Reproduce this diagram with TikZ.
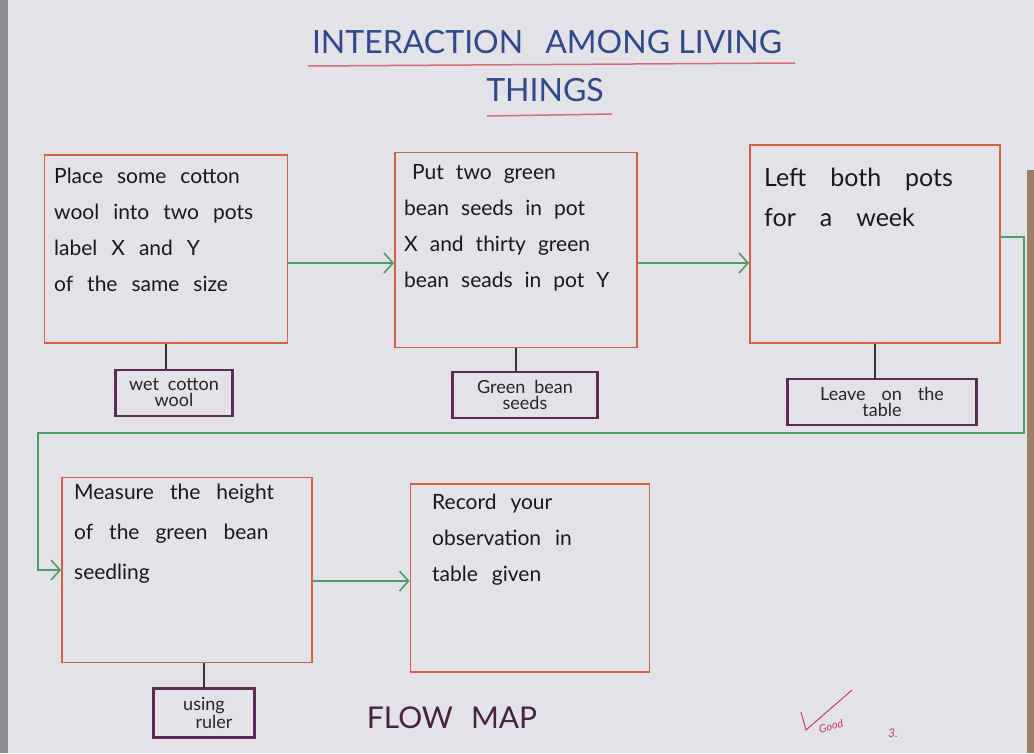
\documentclass[tikz,border=0pt]{standalone}
\usepackage{fontspec}
\setmainfont{Lato}
\usetikzlibrary{arrows.meta}
\definecolor{board}{RGB}{227,226,232}
\definecolor{boxred}{RGB}{214,96,66}
\definecolor{flowgreen}{RGB}{76,158,98}
\definecolor{notepurple}{RGB}{92,42,84}
\definecolor{titleblue}{RGB}{48,72,140}
\definecolor{underred}{RGB}{214,108,120}
\definecolor{markred}{RGB}{200,60,90}
\newdimen\wordgap

\begin{document}
\begin{tikzpicture}[x=1pt,y=-1pt,
    stepbox/.style={draw=boxred, line width=1.8pt, inner sep=0pt},
    notebox/.style={draw=notepurple, line width=2.2pt, inner sep=0pt, align=center, text=black!85, font=\fontsize{18}{16}\selectfont, execute at begin node={\spaceskip=9pt}},
    steptext/.style={anchor=north west, inner sep=0pt, align=left, text=black!90, font=\fontsize{21}{36}\selectfont, execute at begin node={\spaceskip=\wordgap}},
    flow/.style={draw=flowgreen, line width=1.6pt, -{Straight Barb[length=9pt,width=20pt]}},
    link/.style={draw=black!80, line width=1.6pt}]
			%%%%% START %%%%%

			\global\wordgap=14pt
			\useasboundingbox (0,0) rectangle (1034,753);
			\fill[board] (0,0) rectangle (1034,753);
			\fill[black!45] (0,0) rectangle (8,753);
			\fill[brown!45!gray] (1027,170) rectangle (1034,753);

			% title
			\node[text=titleblue, font=\fontsize{32}{32}\selectfont] (title) at (547,42) {INTERACTION\hspace{22pt}AMONG LIVING};
			\node[text=titleblue, font=\fontsize{32}{32}\selectfont] (things) at (545,90) {THINGS};
			\draw[underred, line width=1.5pt] (308,66) -- (795,63);
			\draw[underred, line width=1.5pt] (487,116) -- (612,114);

			% steps
			\node[stepbox, minimum width=243pt, minimum height=188pt] (place) at (166,249) {};
			\node[stepbox, minimum width=242pt, minimum height=195pt] (putseeds) at (516,250) {};
			\node[stepbox, minimum width=250pt, minimum height=198pt] (leavepots) at (875,244) {};
			\node[stepbox, minimum width=250pt, minimum height=185pt] (measure) at (187,570) {};
			\node[stepbox, minimum width=239pt, minimum height=188pt] (record) at (530,578) {};

			\node[steptext] (placetext) at (54,168) {Place some cotton\\wool into two pots\\label X and Y\\of the same size};
			\node[steptext, execute at begin node={\spaceskip=12pt}] (puttext) at (404,164) {\hspace{8pt}Put two green\\bean seeds in pot\\X and thirty green\\bean seads in pot Y};
			\node[steptext, font=\fontsize{25}{40}\selectfont, execute at begin node={\spaceskip=24pt}] (lefttext) at (764,168) {Left both pots\\for a week};
			\node[steptext, font=\fontsize{21}{40}\selectfont, execute at begin node={\spaceskip=16pt}] (measuretext) at (74,484) {Measure the height\\of the green bean\\seedling};
			\node[steptext, font=\fontsize{21}{36}\selectfont] (recordtext) at (432,494) {Record your\\observation in\\table given};

			% notes
			\node[notebox, minimum width=117pt, minimum height=46pt] (wetwool) at (174,393) {wet cotton\\wool};
			\node[notebox, minimum width=145pt, minimum height=46pt] (beanseeds) at (525,395) {Green bean\\seeds};
			\node[notebox, minimum width=189pt, minimum height=46pt, execute at begin node={\spaceskip=16pt}] (ontable) at (882,402) {Leave on the\\table};
			\node[notebox, minimum width=101pt, minimum height=49pt] (ruler) at (204,713) {using\hspace{22pt}\\\hspace{20pt}ruler};

			\draw[link] (place.south) -- (place.south |- wetwool.north);
			\draw[link] (putseeds.south) -- (putseeds.south |- beanseeds.north);
			\draw[link] (leavepots.south) -- (leavepots.south |- ontable.north);
			\draw[link] (ruler.north) -- (ruler.north |- measure.south);

			% flow
			\coordinate (turnright) at (1024,433);
			\coordinate (turnleft) at (38,433);
			\draw[flow] ([yshift=-14pt]place.east) -- ([yshift=-14pt]place.east -| putseeds.west);
			\draw[flow] ([yshift=-13pt]putseeds.east) -- ([yshift=-13pt]putseeds.east -| leavepots.west);
			\draw[flow] ([yshift=7pt]leavepots.east) -| (turnright) -- (turnleft) |- (measure.west);
			\draw[flow] ([yshift=-11pt]measure.east) -- ([yshift=-11pt]measure.east -| record.west);

			\node[text=notepurple!80!black, font=\fontsize{30}{30}\selectfont] (flowmap) at (452,718) {FLOW\hspace{18pt}MAP};

			% teacher's mark
			\draw[markred, line width=1pt] (801,712) -- (806,730) -- (852,690);
			\node[text=markred, rotate=15, font=\fontsize{11}{11}\selectfont\itshape] (good) at (831,726) {Good};
			\node[text=markred, font=\fontsize{12}{12}\selectfont\itshape] (grade) at (893,733) {3.};

			%%%%% END %%%%%
\end{tikzpicture}
\end{document}
